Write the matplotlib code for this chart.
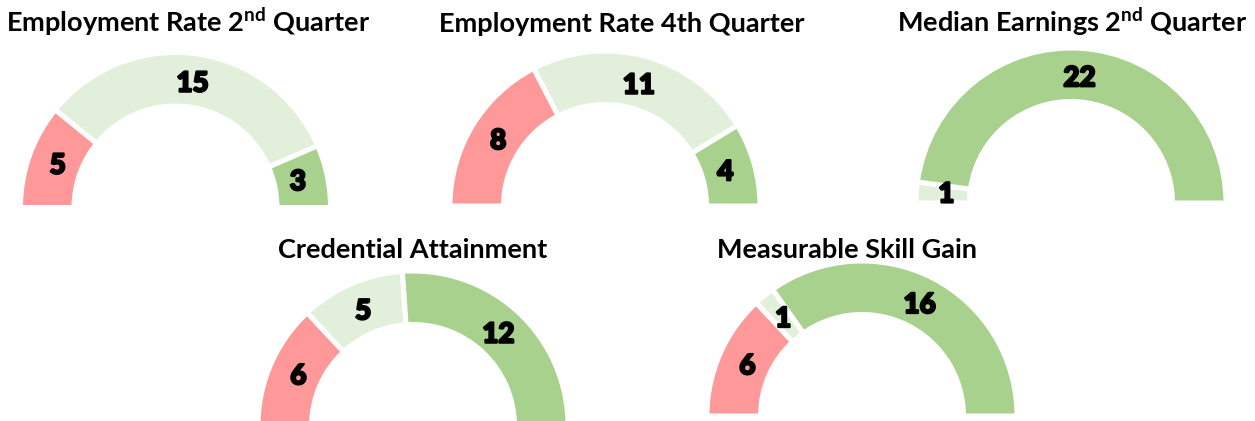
import numpy as np
import matplotlib
matplotlib.use("Agg")
import matplotlib.pyplot as plt
import matplotlib.patheffects as pe
from matplotlib.patches import Rectangle

# ---- data ----
titles = [
    "Employment Rate 2$^{\\mathrm{nd}}$ Quarter",
    "Employment Rate 4th Quarter",
    "Median Earnings 2$^{\\mathrm{nd}}$ Quarter",
    "Credential Attainment",
    "Measurable Skill Gain",
]
below_target = [5, 8, 0, 6, 6]
near_target = [15, 11, 1, 5, 1]
above_target = [3, 4, 22, 12, 16]

colors = ["#FF9999", "#E2EFDA", "#A9D18E"]

# ---- layout (pixel coordinates, image y from top) ----
W, H = 1255, 421
centers = [(175.5, 207.5), (605, 206), (1071, 203), (413, 426), (862, 416)]
title_pos = [(188, 32), (621.5, 32), (1072, 32), (412.5, 257.5), (847, 257.5)]
title_clip = [None, None, None, 255, 255]
R_OUT = 155
R_IN = 101.5
GAP_PX = 5

plt.rcParams["mathtext.fontset"] = "custom"
plt.rcParams["mathtext.rm"] = "Lato:bold"
plt.rcParams["mathtext.it"] = "Lato:bold"
plt.rcParams["mathtext.bf"] = "Lato:bold"

fig = plt.figure(figsize=(W / 100, H / 100), dpi=100)
ax = fig.add_axes([0, 0, 1, 1])

for i in range(5):
    vals = np.array([below_target[i], near_target[i], above_target[i]], dtype=float)
    total = vals.sum()
    cx, cy_img = centers[i]
    cy = H - cy_img
    wedges, _ = ax.pie(
        vals / (2 * total), normalize=False, startangle=180, counterclock=False,
        colors=colors, center=(cx, cy), radius=R_OUT,
        wedgeprops=dict(width=R_OUT - R_IN, edgecolor="white",
                        linewidth=GAP_PX * 72 / 100),
    )
    r_lab = 125
    for w, v in zip(wedges, vals):
        if v <= 0:
            w.set_visible(False)
            continue
        ang = np.deg2rad((w.theta1 + w.theta2) / 2)
        ax.text(cx + r_lab * np.cos(ang), cy + r_lab * np.sin(ang), f"{int(v)}",
                ha="center", va="center", fontsize=20, fontweight="black",
                family="Lato", color="black",
                path_effects=[pe.withStroke(linewidth=1.6, foreground="black")])
    tx, ty = title_pos[i]
    t = ax.text(tx, H - ty, titles[i], ha="center", va="baseline", fontsize=19.5,
                fontweight="bold", family="Lato", color="black")
    if title_clip[i] is not None:
        clip = Rectangle((tx - 300, H - title_clip[i]), 600, 60,
                         transform=ax.transData, visible=False)
        ax.add_patch(clip)
        t.set_clip_path(clip)

ax.set_xlim(0, W)
ax.set_ylim(0, H)
ax.set_aspect("equal")
ax.axis("off")
fig.savefig("out.png", dpi=100, facecolor="white")
